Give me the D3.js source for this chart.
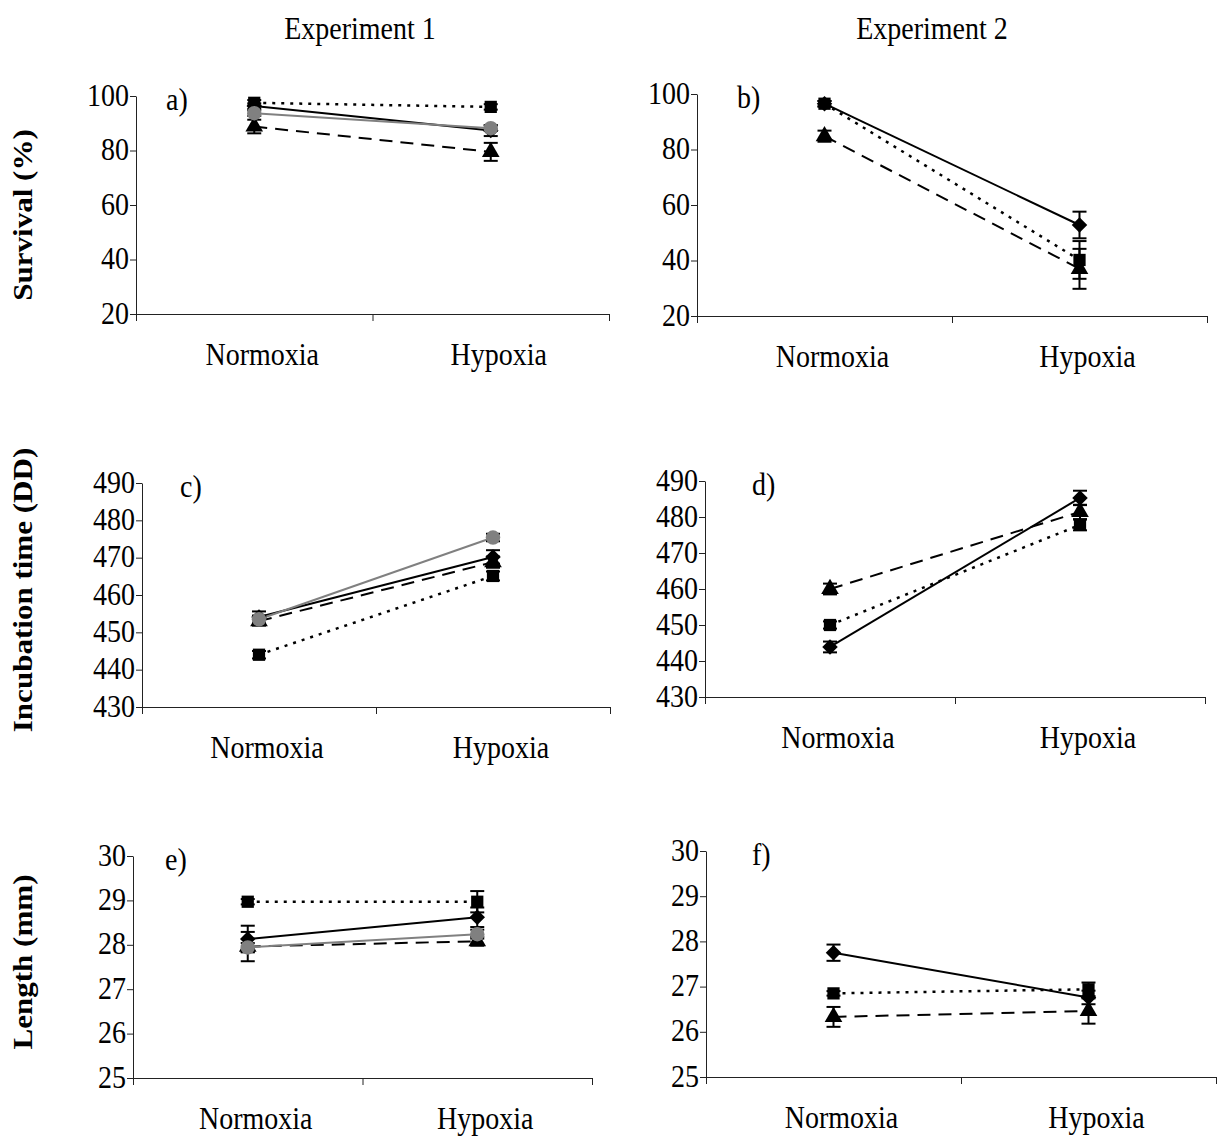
<!DOCTYPE html>
<html>
<head>
<meta charset="utf-8">
<script src="https://cdn.jsdelivr.net/npm/d3@7"></script>
<style>
  body { margin: 0; background: #fff; }
  text { font-family: "Liberation Serif", "Times New Roman", serif; fill: #000; }
</style>
</head>
<body>
<svg id="chart"></svg>
<script>
// categories on every x axis
var conditions = ["Normoxia", "Hypoxia"];
var experiments = ["Experiment 1", "Experiment 2"];
var rowTitles = ["Survival (%)", "Incubation time (DD)", "Length (mm)"];

// y ticks per row
var survivalTicks = [20, 40, 60, 80, 100];
var incubationTicks = [430, 440, 450, 460, 470, 480, 490];
var lengthTicks = [25, 26, 27, 28, 29, 30];

// means [normoxia, hypoxia] and error bars
// a) survival, experiment 1
var survival1 = [
    { series: "triangle", values: [88.8, 79.5], errors: [2.5, 3.3] },
    { series: "square",   values: [97.5, 96.0], errors: [1.0, 1.0] },
    { series: "diamond",  values: [96.3, 87.3], errors: [1.0, 2.0] },
    { series: "circle",   values: [93.7, 88.2], errors: [1.0, 1.0] }
];
// b) survival, experiment 2
var survival2 = [
    { series: "triangle", values: [84.8, 37.0], errors: [2.0, 7.2] },
    { series: "square",   values: [96.5, 40.2], errors: [1.0, 6.8] },
    { series: "diamond",  values: [96.5, 52.8], errors: [1.0, 4.8] }
];
// c) incubation time, experiment 1
var incubation1 = [
    { series: "triangle", values: [453.0, 468.8], errors: [1.2, 1.5] },
    { series: "square",   values: [444.0, 465.1], errors: [1.0, 1.2] },
    { series: "diamond",  values: [454.1, 470.2], errors: [1.5, 1.8] },
    { series: "circle",   values: [453.5, 475.4], errors: [1.0, 1.0] }
];
// d) incubation time, experiment 2
var incubation2 = [
    { series: "triangle", values: [460.0, 481.4], errors: [1.5, 2.0] },
    { series: "square",   values: [450.0, 477.8], errors: [1.0, 1.5] },
    { series: "diamond",  values: [443.9, 485.3], errors: [1.5, 2.0] }
];
// e) length, experiment 1
var length1 = [
    { series: "triangle", values: [27.96, 28.08], errors: [0.33, 0.10] },
    { series: "square",   values: [28.97, 28.97], errors: [0.06, 0.24] },
    { series: "diamond",  values: [28.13, 28.62], errors: [0.30, 0.22] },
    { series: "circle",   values: [27.94, 28.24], errors: [0.10, 0.10] }
];
// f) length, experiment 2
var length2 = [
    { series: "triangle", values: [26.33, 26.46], errors: [0.22, 0.28] },
    { series: "square",   values: [26.85, 26.94], errors: [0.05, 0.15] },
    { series: "diamond",  values: [27.75, 26.76], errors: [0.18, 0.15] }
];

// styles of each series (diamond = square turned 45 degrees)
var seriesStyle = {
    diamond:  { symbol: d3.symbolSquare,   size: 120, rot: 45, fill: "#000", stroke: "#000", dash: null,   width: 2 },
    square:   { symbol: d3.symbolSquare,   size: 150, rot: 0,  fill: "#000", stroke: "#000", dash: "3,6",  width: 2.5 },
    triangle: { symbol: d3.symbolTriangle, size: 135, rot: 0,  fill: "#000", stroke: "#000", dash: "13,8", width: 2 },
    circle:   { symbol: d3.symbolCircle,   size: 165, rot: 0,  fill: "#808080", stroke: "#808080", dash: null, width: 2 }
};

// panel boxes in page pixels
var panels = [
    { label: "a)", data: survival1,   ticks: survivalTicks,   x0: 136, x1: 609,  y0: 96,  y1: 314,  lx: 30 },
    { label: "b)", data: survival2,   ticks: survivalTicks,   x0: 697, x1: 1207, y0: 94,  y1: 316,  lx: 40 },
    { label: "c)", data: incubation1, ticks: incubationTicks, x0: 142, x1: 610,  y0: 483, y1: 707,  lx: 38 },
    { label: "d)", data: incubation2, ticks: incubationTicks, x0: 705, x1: 1205, y0: 481, y1: 697,  lx: 47 },
    { label: "e)", data: length1,     ticks: lengthTicks,     x0: 133, x1: 592,  y0: 856, y1: 1078, lx: 32 },
    { label: "f)", data: length2,     ticks: lengthTicks,     x0: 706, x1: 1216, y0: 851, y1: 1077, lx: 46 }
];

var W = 1229, H = 1138;
var stretchY = 1.15;   // the printed type is a little taller than it is wide

var svg = d3.select("#chart").attr("width", W).attr("height", H);
svg.append("rect").attr("width", W).attr("height", H).attr("fill", "#fff");

// put a text at (x, y) and stretch it vertically
function placeText(sel, x, y) {
    sel.attr("transform", "translate(" + x + "," + y + ") scale(1," + stretchY + ")");
}

// column titles
experiments.forEach((t, i) => {
    svg.append("text")
        .call(placeText, i == 0 ? 360 : 932, 39)
        .attr("text-anchor", "middle")
        .style("font-size", "28px")
        .text(t);
});

// row titles, rotated
var rowCenters = [215, 590, 962];
rowTitles.forEach((t, i) => {
    svg.append("text")
        .attr("transform", "translate(32," + rowCenters[i] + ") scale(1," + stretchY + ") rotate(-90)")
        .attr("text-anchor", "middle")
        .style("font-size", "27px")
        .style("font-weight", "bold")
        .text(t);
});

panels.forEach(p => {
    var g = svg.append("g");
    var ticks = p.ticks;

    var y = d3.scaleLinear()
        .domain([ticks[0], ticks[ticks.length - 1]])
        .range([p.y1, p.y0]);

    var x = d3.scaleBand()
        .domain(conditions)
        .range([p.x0, p.x1]);

    // boundaries of the categories for the x ticks
    var xEdge = d3.scaleLinear().domain([0, conditions.length]).range([p.x0, p.x1]);

    // y axis
    var yAxis = g.append("g")
        .attr("transform", "translate(" + p.x0 + ",0)")
        .call(d3.axisLeft(y).tickValues(ticks).tickFormat(d3.format("d")).tickSize(6).tickSizeOuter(0).tickPadding(1));
    yAxis.selectAll(".tick text")
        .style("font-size", "28px")
        .attr("x", null).attr("dy", null)
        .attr("transform", "translate(-7,9) scale(1," + stretchY + ")");

    // x axis
    g.append("g")
        .attr("transform", "translate(0," + p.y1 + ")")
        .call(d3.axisBottom(xEdge).tickValues(d3.range(conditions.length + 1)).tickFormat("").tickSize(7).tickSizeOuter(0));

    g.selectAll("path.domain, .tick line").attr("stroke", "#222");

    // category labels
    conditions.forEach(c => {
        g.append("text")
            .call(placeText, x(c) + x.bandwidth() / 2 + 8, p.y1 + 51)
            .attr("text-anchor", "middle")
            .style("font-size", "28px")
            .text(c);
    });

    // panel letter
    g.append("text")
        .call(placeText, p.x0 + p.lx, p.y0 + 14)
        .style("font-size", "28px")
        .text(p.label);

    var cx = d => x(d) + x.bandwidth() / 2;

    // lines
    p.data.forEach(s => {
        var st = seriesStyle[s.series];
        var pts = conditions.map((c, i) => [cx(c), y(s.values[i])]);
        g.append("path")
            .attr("d", d3.line()(pts))
            .attr("fill", "none")
            .attr("stroke", st.stroke)
            .attr("stroke-width", st.width)
            .attr("stroke-dasharray", st.dash);
    });

    // error bars
    p.data.forEach(s => {
        conditions.forEach((c, i) => {
            var v = s.values[i], e = s.errors[i], xx = cx(c);
            var eg = g.append("g").attr("stroke", "#000").attr("stroke-width", 2);
            eg.append("line").attr("x1", xx).attr("x2", xx).attr("y1", y(v - e)).attr("y2", y(v + e));
            [v - e, v + e].forEach(b => {
                eg.append("line").attr("x1", xx - 7).attr("x2", xx + 7).attr("y1", y(b)).attr("y2", y(b));
            });
        });
    });

    // markers
    p.data.forEach(s => {
        var st = seriesStyle[s.series];
        conditions.forEach((c, i) => {
            g.append("path")
                .attr("d", d3.symbol().type(st.symbol).size(st.size)())
                .attr("transform", "translate(" + cx(c) + "," + y(s.values[i]) + ") rotate(" + st.rot + ")")
                .attr("fill", st.fill);
        });
    });
});
</script>
</body>
</html>
